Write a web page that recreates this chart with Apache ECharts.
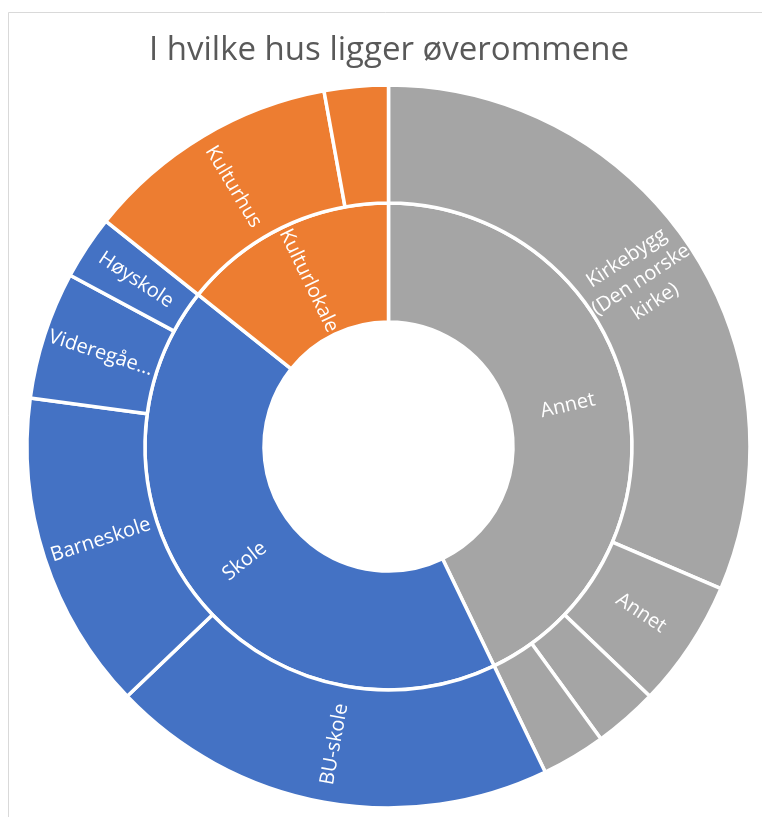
<!DOCTYPE html>
<html>
<head>
<meta charset="utf-8">
<script src="https://cdn.jsdelivr.net/npm/echarts@6/dist/echarts.min.js"></script>
<style>
  html, body { margin: 0; padding: 0; background: #fff; }
  #chart { width: 762px; height: 817px; }
</style>
</head>
<body>
<div id="chart"></div>
<script>
const titleText = 'I hvilke hus ligger øverommene';

const groups = ['Annet', 'Skole', 'Kulturlokale'];

const annetNames  = ['Kirkebygg (Den norske kirke)', 'Annet', '', ''];
const annetLabels = ['Kirkebygg\n(Den norske\nkirke)', 'Annet', '', ''];
const annetValues = [11, 2, 1, 1];

const skoleNames  = ['BU-skole', 'Barneskole', 'Videregående', 'Høyskole'];
const skoleLabels = ['BU-skole', 'Barneskole', 'Videregåe...', 'Høyskole'];
const skoleValues = [7, 5, 2, 1];

const kulturNames  = ['Kulturhus', ''];
const kulturLabels = ['Kulturhus', ''];
const kulturValues = [4, 1];

const groupColors = ['#A5A5A5', '#4472C4', '#ED7D31'];

function kids(names, labels, values, color) {
  return names.map((n, i) => ({
    name: n,
    value: values[i],
    itemStyle: { color: color },
    label: labels[i] ? { formatter: labels[i] } : { show: false }
  }));
}

const childSets = [
  kids(annetNames, annetLabels, annetValues, groupColors[0]),
  kids(skoleNames, skoleLabels, skoleValues, groupColors[1]),
  kids(kulturNames, kulturLabels, kulturValues, groupColors[2])
];

const data = groups.map((g, i) => ({
  name: g,
  itemStyle: { color: groupColors[i] },
  children: childSets[i]
}));

const chart = echarts.init(document.getElementById('chart'), null, { renderer: 'canvas' });
chart.setOption({
  animation: false,
  backgroundColor: '#ffffff',
  graphic: [{
    type: 'rect',
    shape: { x: 8.5, y: 12.5, width: 800, height: 850 },
    style: { fill: 'none', stroke: '#d9d9d9', lineWidth: 1 },
    silent: true
  }],
  title: {
    text: titleText,
    left: 144,
    top: 29,
    textStyle: {
      fontFamily: 'Open Sans',
      fontWeight: 'normal',
      fontSize: 33,
      color: '#595959'
    }
  },
  series: [{
    type: 'sunburst',
    center: [388.5, 446.5],
    startAngle: 90,
    sort: null,
    nodeClick: false,
    data: data,
    itemStyle: { borderColor: '#ffffff', borderWidth: 3.5 },
    label: {
      color: '#ffffff',
      fontFamily: 'Open Sans',
      fontSize: 20,
      rotate: 'radial',
      align: 'center',
      lineHeight: 26
    },
    emphasis: { disabled: true },
    levels: [
      {},
      { r0: 124.5, r: 243.5, label: { rotate: 'radial', position: 'inside' } },
      { r0: 243.5, r: 361.5, label: { rotate: 'radial', position: 'inside' } }
    ]
  }]
});
</script>
</body>
</html>
